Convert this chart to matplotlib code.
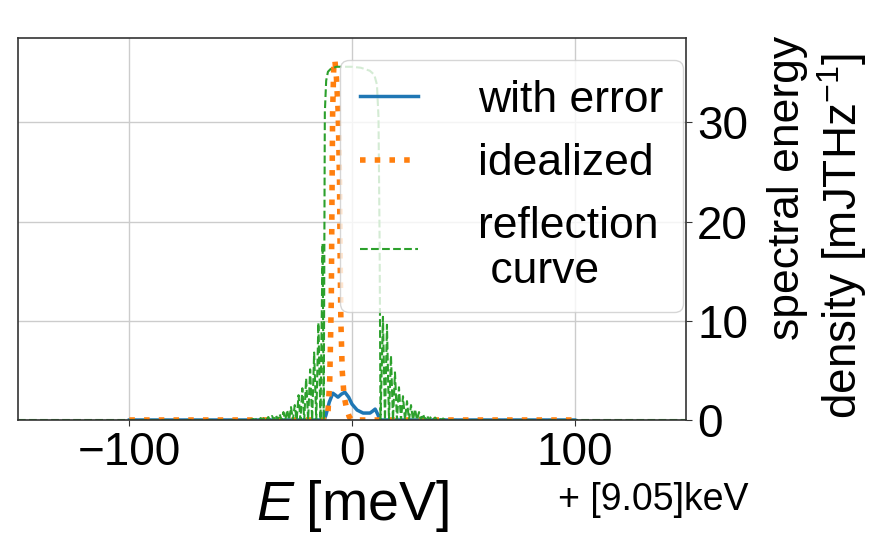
import matplotlib
matplotlib.use("Agg")
import matplotlib.pyplot as plt

plt.rcParams["font.family"] = ["Liberation Sans", "DejaVu Sans"]
plt.rcParams["mathtext.fontset"] = "custom"
plt.rcParams["mathtext.rm"] = "Liberation Sans"
plt.rcParams["mathtext.it"] = "Liberation Sans:italic"

# --- spectrum with error (meV relative to 9.05 keV) ---
error_x = [-100, -12.5, -11.7, -10.2, -8.6, -7.4, -6.3, -4.8, -3.2, -1.5, 0.0, 2.3, 5.0, 8.1, 9.3, 10.4, 11.5, 12.6, 100]
error_y = [0, 0, 0.5, 1.8, 2.7, 2.5, 2.3, 2.6, 2.8, 2.3, 1.6, 1.0, 0.7, 0.7, 0.9, 1.1, 0.6, 0, 0]

# --- idealized spectrum ---
ideal_x = [-100, -11.5, -10.8, -10.0, -9.3, -9.0, -8.7, -8.2, -7.7, -7.0, -6.2, -5.6, -5.3, -5.0, -4.4, -3.6, -2.5, -1.2, 0, 100]
ideal_y = [0, 0, 0.7, 4, 12, 22, 31, 35.5, 36.3, 34.5, 31, 24, 16, 10, 5, 2.5, 1.2, 0.3, 0, 0]

# --- reflection curve: low-energy side lobes ---
refl_left_x = [-150, -46.0,
               -44.4, -43.55, -42.7, -41.85, -41.0, -40.15, -39.3, -38.45,
               -37.6, -36.75, -35.9, -35.05, -34.2, -33.35, -32.5, -31.65,
               -30.8, -29.95, -29.1, -28.25, -27.4, -26.55, -25.7, -24.85,
               -24.0, -23.15, -22.3, -21.45, -20.6, -19.7, -18.8, -17.9,
               -17.0, -16.05, -15.1, -14.15, -13.2, -12.7]
refl_left_y = [0, 0,
               0.1, 0, 0.15, 0, 0.2, 0, 0.25, 0,
               0.3, 0, 0.4, 0, 0.5, 0, 0.6, 0,
               0.8, 0, 1.0, 0, 1.3, 0, 1.5, 0,
               2.5, 0, 3.2, 0, 4.2, 0, 5.1, 0,
               6.8, 0, 9.8, 0, 17.8, 0]

# --- reflection curve: total-reflection plateau ---
refl_top_x = [-12.2, -11.6, -10.8, -9.5, -7.0, -3.0, 0.0, 4.0, 8.0, 10.0, 11.2, 11.9, 12.4, 12.8]
refl_top_y = [31.0, 34.2, 35.1, 35.4, 35.6, 35.6, 35.6, 35.5, 35.2, 34.8, 33.8, 30.5, 18.0, 0]

# --- reflection curve: high-energy side lobes ---
refl_right_x = [13.9, 14.8, 15.7, 16.6, 17.5, 18.4, 19.3, 20.2, 21.1, 22.0,
                22.9, 23.8, 24.7, 25.6, 26.5, 27.4, 28.3, 29.2, 30.1, 31.0,
                31.9, 32.8, 33.7, 34.6, 35.5, 36.4, 37.3, 38.2, 39.1, 40.0,
                40.9, 41.8, 42.7, 43.6, 150]
refl_right_y = [10.4, 0, 9.6, 0, 6.5, 0, 4.8, 0, 3.3, 0,
                2.4, 0, 1.9, 0, 1.5, 0, 1.1, 0, 0.8, 0,
                0.6, 0, 0.45, 0, 0.35, 0, 0.25, 0, 0.2, 0,
                0.15, 0, 0.1, 0, 0]

refl_x = refl_left_x + refl_top_x + refl_right_x
refl_y = refl_left_y + refl_top_y + refl_right_y

xticks = [-100, 0, 100]
yticks = [0, 10, 20, 30]

W, H = 889, 539
fig = plt.figure(figsize=(W / 100, H / 100), dpi=100)
ax = fig.add_axes([18 / W, (H - 420) / H, (686 - 18) / W, (420 - 38) / H])

ax.plot(error_x, error_y, color="#1f77b4", lw=2.5, label="with error")
ax.plot(ideal_x, ideal_y, color="#ff7f0e", lw=4, ls=":", label="idealized")
ax.plot(refl_x, refl_y, color="#2ca02c", lw=1.5, ls="--", label="reflection\n curve")

ax.set_xlim(-150, 150)
ax.set_ylim(0, 38.5)
ax.set_xticks(xticks)
ax.set_yticks(yticks)
ax.yaxis.tick_right()
ax.tick_params(labelsize=33, length=4, width=0.8, colors="#333333", labelcolor="black", pad=4)
ax.grid(True, color="#cccccc", lw=1)
for s in ax.spines.values():
    s.set_color("#333333")
    s.set_linewidth(1.2)

ax.set_xlabel(r"$E\;[\mathrm{meV}]$", fontsize=40, labelpad=2)

# two-line y-axis title on the right
fig.text(787 / W, 1 - 188 / H, "spectral energy", fontsize=32, rotation=90,
         ha="center", va="center")
fig.text(842 / W, 1 - 236 / H, "density [mJTHz$^{-1}$]", fontsize=33, rotation=90,
         ha="center", va="center")

fig.text(558 / W, 1 - 500 / H, "+ [9.05]keV", fontsize=27, ha="left", va="center")

leg = ax.legend(loc="upper right", fontsize=32, handlelength=1.3, handletextpad=1.35,
                framealpha=0.8, borderaxespad=0.0, borderpad=0.45, labelspacing=0.5,
                bbox_to_anchor=((683 - 18) / 668, (420 - 60) / 382))
for t in leg.get_texts():
    t.set_linespacing(1.1)

fig.savefig("out.png", dpi=100)
